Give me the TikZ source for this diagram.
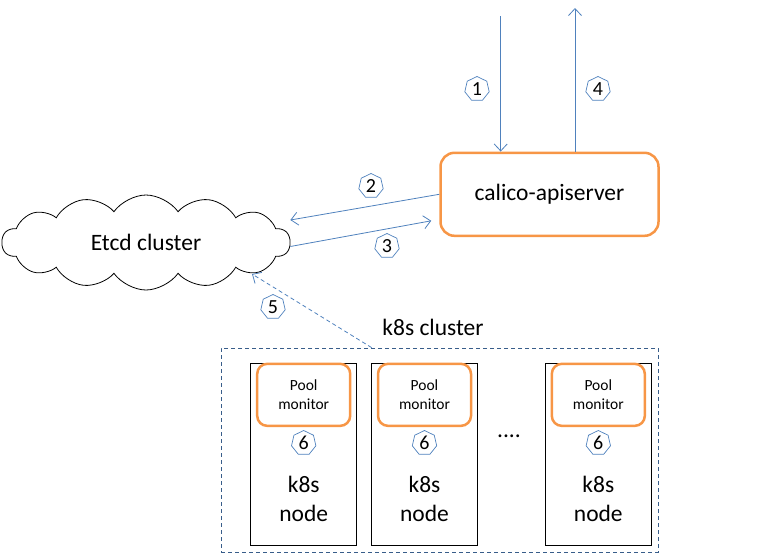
\documentclass[tikz,border=0pt]{standalone}
\usepackage{fontspec}
\setmainfont{Carlito}
\usepackage{tikz}
\usetikzlibrary{arrows.meta, positioning, shapes.geometric, shapes.symbols}

\definecolor{accent}{HTML}{F79646}
\definecolor{flow}{HTML}{4F81BD}
\definecolor{frame}{HTML}{385D8A}

\begin{document}
\begin{tikzpicture}[x=1pt, y=-1pt,
    bigtext/.style={font=\fontsize{23.5}{29}\selectfont, align=center},
    apibox/.style={draw=accent, line width=2.5pt, rounded corners=14pt,
      minimum width=218, minimum height=83, bigtext},
    pool/.style={draw=accent, line width=2.5pt, rounded corners=10pt,
      minimum width=93, minimum height=62, align=center,
      font=\fontsize{15.5}{18.5}\selectfont},
    nodebox/.style={draw, line width=0.8pt, minimum width=106, minimum height=182},
    num/.style={regular polygon, regular polygon sides=7, draw=flow, line width=0.7pt,
      minimum size=25, inner sep=0pt, font=\fontsize{20}{20}\selectfont},
    flowarrow/.style={draw=flow, line width=0.8pt, -{Straight Barb[length=7pt, width=13pt]}}]

  \useasboundingbox (0,0) rectangle (765,554);

  % Server and store
  \node[apibox] (api) at (549.5,194.3) {calico-apiserver};
  \node[cloud, draw, line width=0.8pt, cloud puffs=14, cloud puff arc=110, cloud ignores aspect,
        minimum width=288, minimum height=95, bigtext] (etcd) at (146,242.5) {Etcd cluster};

  % Requests from outside
  \coordinate (in) at (500.7,16);
  \coordinate (out) at (575,8);
  \draw[flowarrow] (in) -- (in |- api.north);
  \draw[flowarrow] (out |- api.north) -- (out);
  \node[num] (n1) at (477,89) {1};
  \node[num] (n4) at (598,89) {4};

  % Talking to etcd
  \draw[flowarrow] (api.west) -- ([yshift=22.5pt]etcd.east);
  \draw[flowarrow] ([yshift=-4pt]etcd.east) -- ([xshift=-8pt, yshift=-26.5pt]api.west);
  \node[num] (n2) at (371,186) {2};
  \node[num] (n3) at (387,246) {3};

  % k8s cluster
  \node[draw=frame, line width=0.8pt, dash pattern=on 4pt off 3pt,
        minimum width=437, minimum height=204] (cluster) at (439.5,450) {};
  \node[bigtext] (clusterlbl) at (433,327) {k8s cluster};
  \draw[flowarrow, dash pattern=on 4pt off 3pt]
    ([xshift=151pt]cluster.north west) -- ([xshift=106pt, yshift=-31.5pt]etcd.center);
  \node[num] (n5) at (273,307) {5};

  % k8s nodes
  \foreach \i/\x in {1/303.7, 2/424.5, 3/598.3} {
    \node[nodebox] (box\i) at (\x,454) {};
    \node[pool, below=0pt of box\i.north] (pool\i) {Pool\\monitor};
    \node[num] (six\i) at (\x,443) {6};
    \node[bigtext] (k8s\i) at (\x,499) {k8s\\node};
  }
  \node[bigtext] (dots) at (509,436) {....};

\end{tikzpicture}
\end{document}
